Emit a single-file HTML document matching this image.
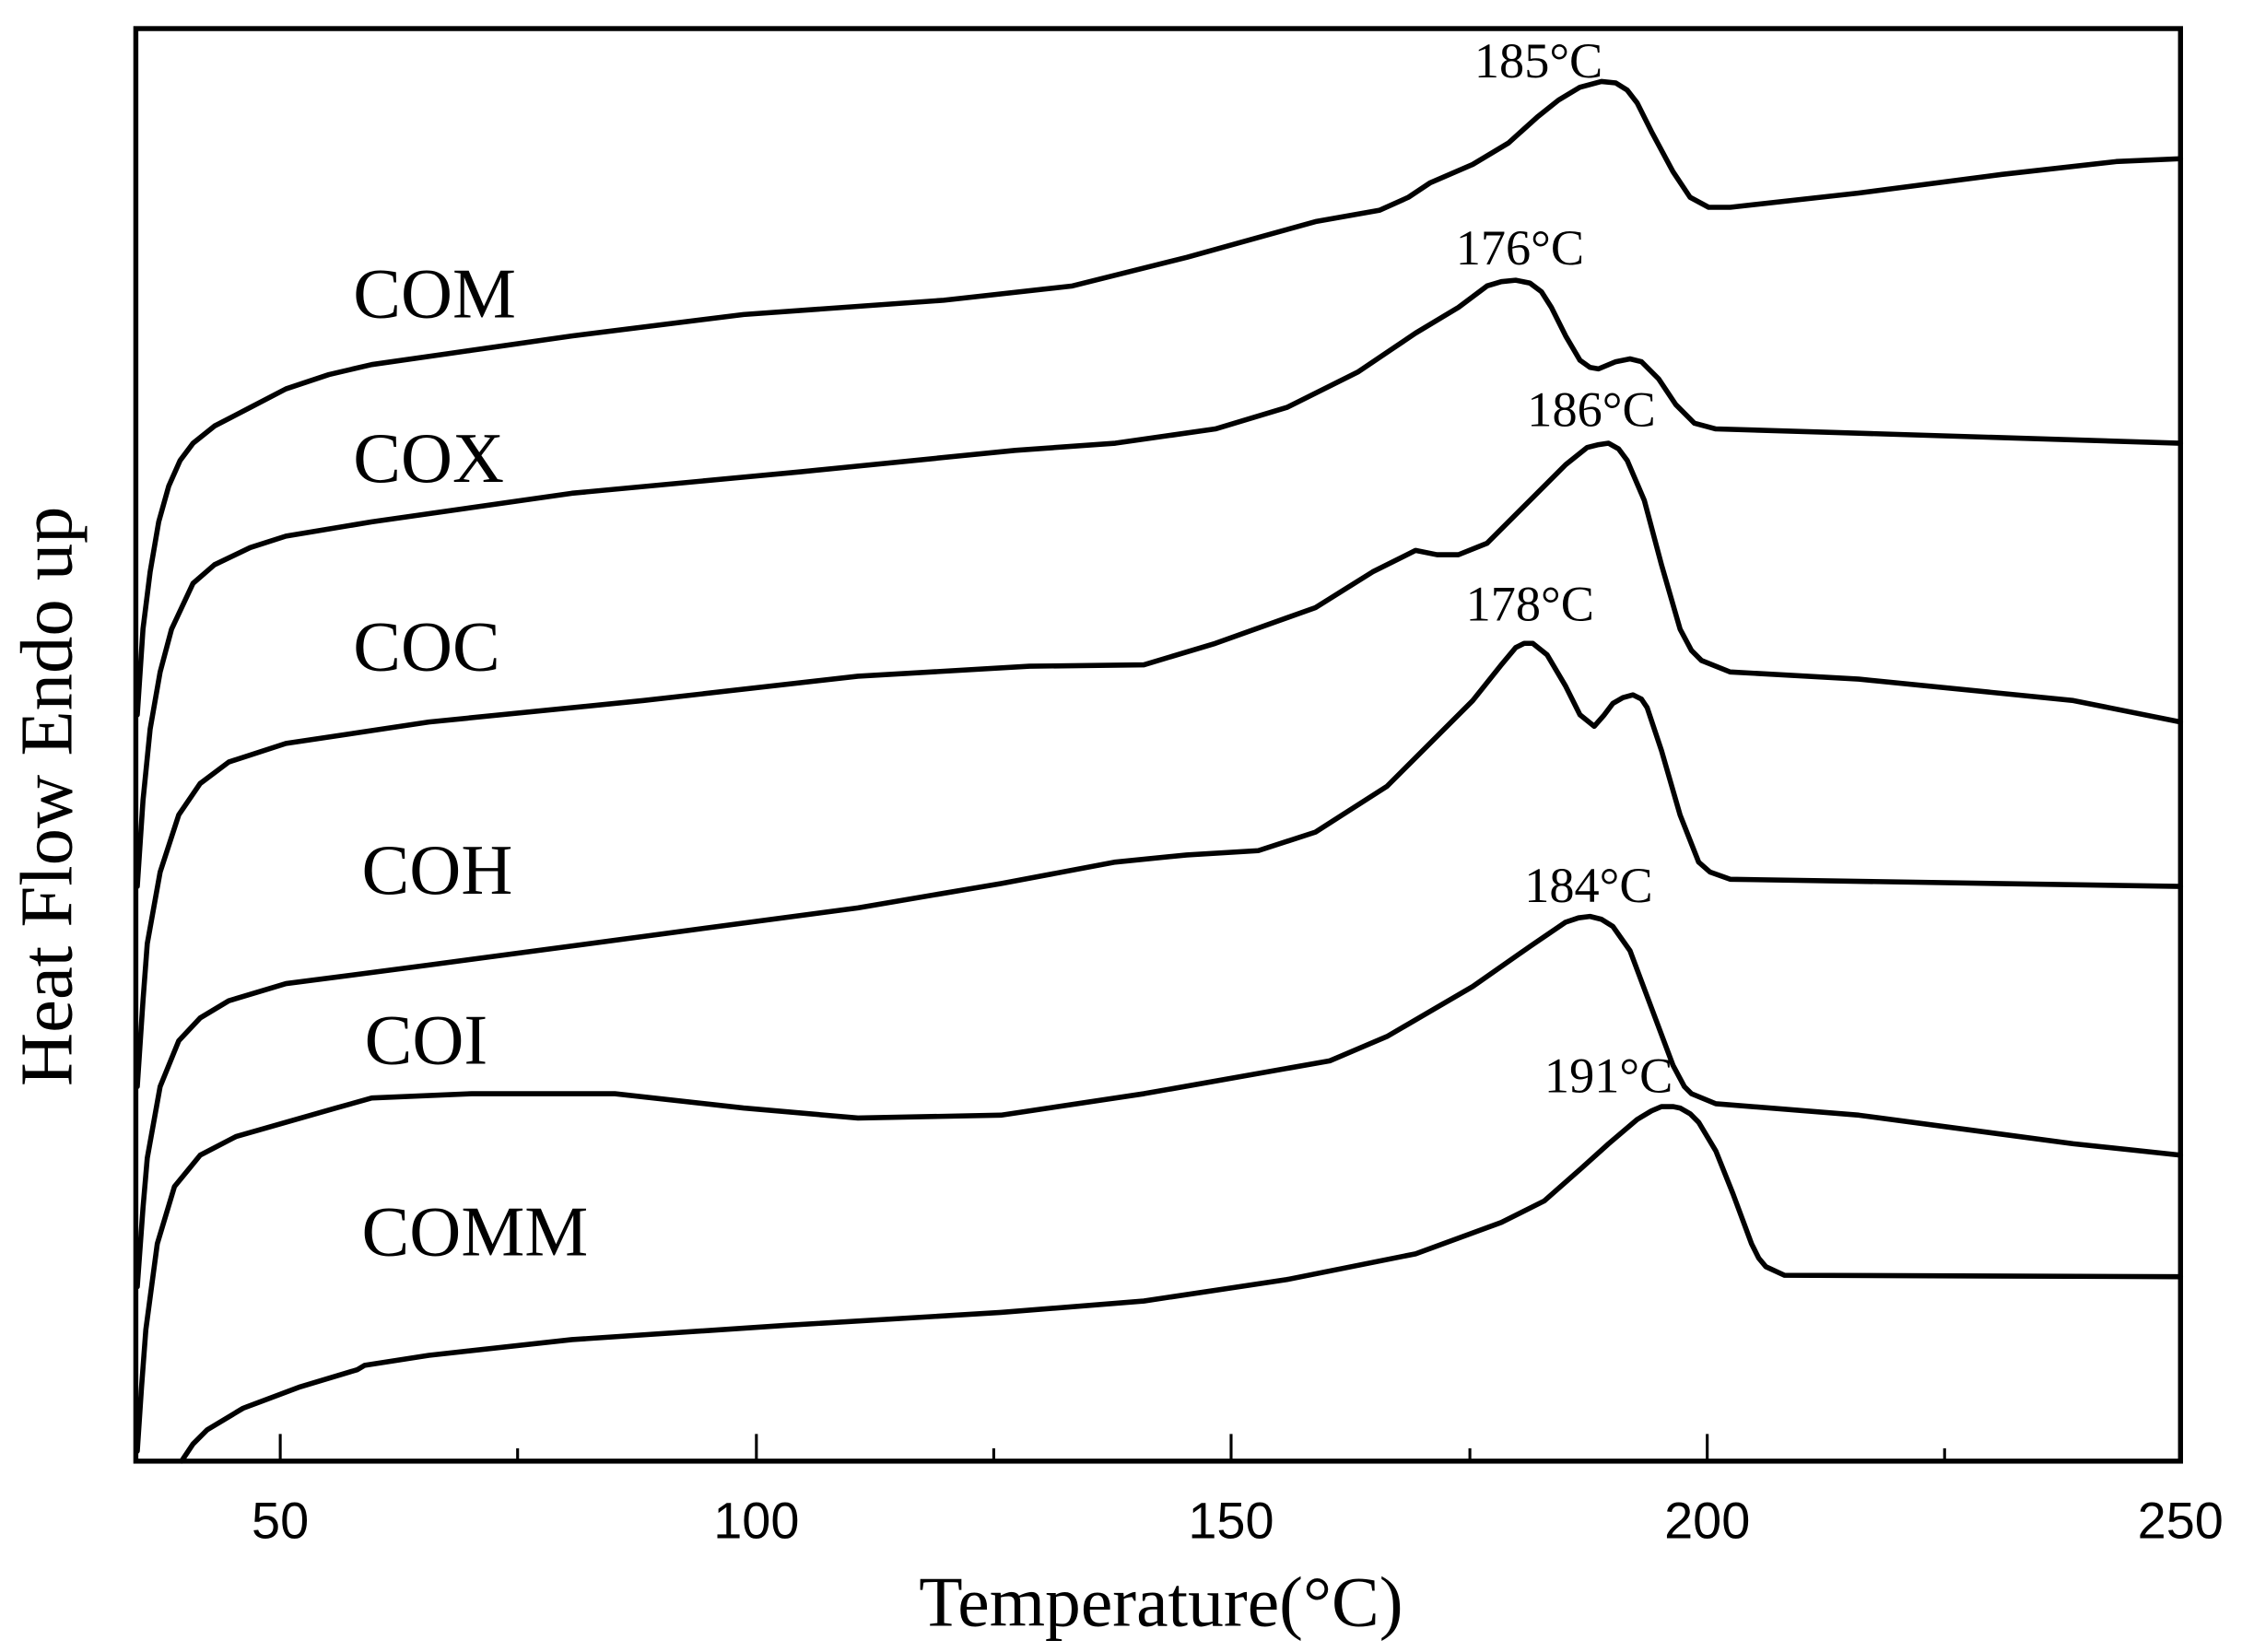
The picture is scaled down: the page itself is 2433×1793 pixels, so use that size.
<!DOCTYPE html>
<html><head><meta charset="utf-8"><style>html,body{margin:0;padding:0;background:#fff}svg{display:block}</style></head>
<body>
<svg width="2433" height="1793" viewBox="0 0 1568 1155.5" preserveAspectRatio="none" xmlns="http://www.w3.org/2000/svg" font-family="Liberation Serif, serif">
<rect x="95" y="20" width="1430" height="1002" fill="none" stroke="#000" stroke-width="3.5"/>
<g stroke="#000" stroke-width="2">
<line x1="196" y1="1022" x2="196" y2="1003"/><line x1="529" y1="1022" x2="529" y2="1003"/><line x1="861" y1="1022" x2="861" y2="1003"/><line x1="1194" y1="1022" x2="1194" y2="1003"/>
<line x1="362" y1="1022" x2="362" y2="1013"/><line x1="695" y1="1022" x2="695" y2="1013"/><line x1="1028" y1="1022" x2="1028" y2="1013"/><line x1="1360" y1="1022" x2="1360" y2="1013"/>
</g>
<g fill="none" stroke="#000" stroke-width="3.6" stroke-linejoin="round" stroke-linecap="round">
<polyline points="96,500 100,440 105,400 111,365 118,340 126,322 135,310 150,298 175,285 200,272 230,262 260,255 330,245 400,235 520,220 660,210 750,200 830,180 920,155 965,147 985,138 1000,128 1030,115 1055,100 1075,82 1090,70 1105,61 1120,57 1130,58 1138,63 1145,72 1155,92 1170,120 1182,138 1195,145 1210,145 1300,135 1400,122 1480,113 1525,111"/>
<polyline points="96,620 100,560 105,510 112,470 120,440 135,408 150,395 175,383 200,375 260,365 400,345 560,330 710,315 780,310 850,300 900,285 950,260 990,233 1020,215 1040,200 1050,197 1060,196 1070,198 1078,204 1085,215 1095,235 1105,252 1112,257 1118,258 1130,253 1140,251 1148,253 1160,265 1172,283 1185,296 1200,300 1300,303 1525,310"/>
<polyline points="96,760 100,700 103,660 112,610 125,570 140,548 160,533 200,520 300,505 450,490 600,473 720,466 800,465 850,450 920,425 960,400 990,385 1005,388 1020,388 1040,380 1070,350 1095,325 1110,313 1118,311 1125,310 1132,314 1138,322 1150,350 1162,395 1175,440 1183,455 1190,462 1210,470 1300,475 1450,490 1525,505"/>
<polyline points="96,900 100,845 103,810 112,760 125,728 140,712 160,700 200,688 300,675 450,655 600,635 700,618 780,603 830,598 880,595 920,582 970,550 1030,490 1050,465 1060,453 1066,450 1072,450 1082,458 1095,480 1105,500 1115,508 1122,500 1128,492 1135,488 1142,486 1148,489 1152,495 1162,525 1175,570 1188,603 1196,610 1210,615 1525,620"/>
<polyline points="96,1015 99,970 102,930 110,870 122,830 140,808 165,795 200,785 235,775 260,768 330,765 430,765 520,775 600,782 700,780 800,765 930,742 970,725 1030,690 1070,662 1095,645 1104,642 1112,641 1120,643 1128,648 1140,665 1155,705 1170,745 1178,760 1183,765 1200,772 1300,780 1450,800 1525,808"/>
<polyline points="127,1022 135,1010 145,1000 170,985 210,970 250,958 255,955 300,948 400,937 550,927 700,918 800,910 900,895 990,877 1050,855 1080,840 1105,818 1125,800 1145,783 1155,777 1162,774 1170,774 1175,775 1182,779 1188,785 1200,805 1212,835 1225,870 1230,880 1235,886 1248,892 1525,893"/>
</g>
<g font-size="50">
<text x="247" y="222">COM</text>
<text x="247" y="337">COX</text>
<text x="247" y="469">COC</text>
<text x="253" y="625">COH</text>
<text x="255" y="744">COI</text>
<text x="253" y="878">COMM</text>
</g>
<g font-size="35" text-anchor="middle">
<text x="1076" y="54">185°C</text>
<text x="1063" y="185">176°C</text>
<text x="1113" y="298">186°C</text>
<text x="1070" y="434">178°C</text>
<text x="1111" y="631">184°C</text>
<text x="1125" y="764">191°C</text>
</g>
<g font-size="36" text-anchor="middle" font-family="Liberation Sans, sans-serif">
<text x="196" y="1076">50</text>
<text x="529" y="1076">100</text>
<text x="861" y="1076">150</text>
<text x="1194" y="1076">200</text>
<text x="1525" y="1076">250</text>
</g>
<text x="812" y="1137" font-size="50" text-anchor="middle">Temperature(°C)</text>
<text transform="translate(50,557) rotate(-90)" font-size="52" text-anchor="middle">Heat Flow Endo up</text>
</svg>
</body></html>
